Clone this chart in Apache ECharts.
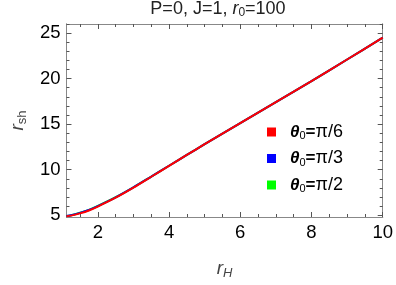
<!DOCTYPE html>
<html><head><meta charset="utf-8">
<script src="https://cdn.jsdelivr.net/npm/echarts@6/dist/echarts.min.js"></script>
<style>html,body{margin:0;padding:0;background:#fff}#c{width:396px;height:285px}</style>
</head><body><div id="c"></div>
<script>
const rH = [1.12, 1.25, 1.5, 1.75, 2, 2.5, 3, 3.5, 4, 4.5, 5, 6, 7, 8, 9, 10];
const rshPi6 = [4.88, 4.95, 5.2, 5.52, 5.95, 6.92, 8.03, 9.22, 10.42, 11.62, 12.8, 15.12, 17.42, 19.72, 22.1, 24.5];
const rshPi3 = [4.9, 4.99, 5.25, 5.57, 6.0, 6.96, 8.06, 9.24, 10.43, 11.62, 12.8, 15.12, 17.42, 19.72, 22.1, 24.5];
const rshPi2 = [4.9, 5.0, 5.26, 5.58, 6.01, 6.97, 8.06, 9.24, 10.43, 11.62, 12.8, 15.12, 17.42, 19.72, 22.1, 24.5];
const xMajor = [2, 4, 6, 8, 10];
const xMinor = [1.5, 2.5, 3, 3.5, 4.5, 5, 5.5, 6.5, 7, 7.5, 8.5, 9, 9.5];
const yMajor = [5, 10, 15, 20, 25];
const yMinor = [6,7,8,9,11,12,13,14,16,17,18,19,21,22,23,24,26];
const names = ['θ0=π/6', 'θ0=π/3', 'θ0=π/2'];
const colors = ['#ff0000', '#0000ff', '#00ff00'];

const FONT = 'Liberation Sans, Arial, sans-serif';
const frame = '#888888';
const tickC = '#555555';
const X0 = 1.12, X1 = 10, Y0 = 4.8, Y1 = 26;

function xAx(pos, major, vals, labels) {
  return {
    type: 'value', position: pos, min: X0, max: X1,
    axisLine: {show: true, lineStyle: {color: frame, width: 1}},
    splitLine: {show: false},
    axisTick: {show: true, inside: true, length: major ? 5 : 3, customValues: vals, lineStyle: {color: tickC}},
    axisLabel: labels ? {show: true, customValues: xMajor, fontFamily: FONT, fontSize: 18.5, color: '#000', margin: 6} : {show: false}
  };
}
function yAx(pos, major, vals, labels) {
  return {
    type: 'value', position: pos, min: Y0, max: Y1,
    axisLine: {show: true, lineStyle: {color: frame, width: 1}},
    splitLine: {show: false},
    axisTick: {show: true, inside: true, length: major ? 5 : 3, customValues: vals, lineStyle: {color: tickC}},
    axisLabel: labels ? {show: true, customValues: yMajor, fontFamily: FONT, fontSize: 18.5, color: '#000', margin: 6} : {show: false}
  };
}

const xAxes = [xAx('bottom', true, xMajor, true), xAx('bottom', false, xMinor, false), xAx('top', true, xMajor, false), xAx('top', false, xMinor, false)];
const yAxes = [yAx('left', true, yMajor, true), yAx('left', false, yMinor, false), yAx('right', true, yMajor, false), yAx('right', false, yMinor, false)];
xAxes[0].name = '{i|r}{s|H}';
xAxes[0].nameLocation = 'middle';
xAxes[0].nameGap = 40;
xAxes[0].nameTextStyle = {rich: {i: {fontFamily: FONT, fontStyle: 'italic', fontSize: 19, color: '#444'}, s: {fontFamily: FONT, fontStyle: 'italic', fontSize: 13, color: '#444', padding: [10, 0, 0, 0]}}};
yAxes[0].name = '{i|r}{s|sh}';
yAxes[0].nameLocation = 'middle';
yAxes[0].nameGap = 35;
yAxes[0].nameTextStyle = {rich: {i: {fontFamily: FONT, fontStyle: 'italic', fontSize: 19, color: '#444'}, s: {fontFamily: FONT, fontSize: 13, color: '#444', padding: [10, 0, 0, 0]}}};

function pts(arr) { return rH.map((x, i) => [x, arr[i]]); }
const data = [rshPi6, rshPi3, rshPi2];
const series = [2, 1, 0].map(k => ({
  name: names[k], type: 'line', data: pts(data[k]), smooth: 0.3, symbol: 'none',
  lineStyle: {color: colors[k], width: 2}, itemStyle: {color: colors[k]}, xAxisIndex: 0, yAxisIndex: 0
}));

const chart = echarts.init(document.getElementById('c'), null, {renderer: 'canvas'});
chart.setOption({
  animation: false,
  backgroundColor: '#fff',
  grid: {left: 59, right: 13, top: 24, bottom: 61, containLabel: false},
  title: {
    text: '{n|P=0, J=1, }{i|r}{s|0}{n|=100}', left: 218, top: -1, textAlign: 'center', padding: 0,
    textStyle: {fontWeight: 'normal', rich: {
      n: {fontFamily: FONT, fontSize: 18, fontWeight: 'normal', color: '#222'},
      i: {fontFamily: FONT, fontStyle: 'italic', fontWeight: 'normal', fontSize: 18, color: '#222'},
      s: {fontFamily: FONT, fontSize: 12, fontWeight: 'normal', color: '#222', padding: [8, 0, 0, 0]}}}
  },
  legend: {
    orient: 'vertical', left: 262, top: 118, itemGap: 8, itemWidth: 9, itemHeight: 9, icon: 'rect',
    data: names,
    formatter: function (n) { const p = n.split('='); return '{t|θ}{s|0}{e|=}{v|' + p[1] + '}'; },
    textStyle: {rich: {
      t: {fontFamily: FONT, fontWeight: 'bold', fontStyle: 'italic', fontSize: 17, color: '#000', padding: [0, 0, 0, 9]},
      s: {fontFamily: FONT, fontSize: 11, color: '#000', padding: [8, 0, 0, 0]},
      e: {fontFamily: FONT, fontWeight: 'bold', fontSize: 17, color: '#000'},
      v: {fontFamily: FONT, fontSize: 18, color: '#000'}
    }}
  },
  xAxis: xAxes,
  yAxis: yAxes,
  series: series
});
</script></body></html>
